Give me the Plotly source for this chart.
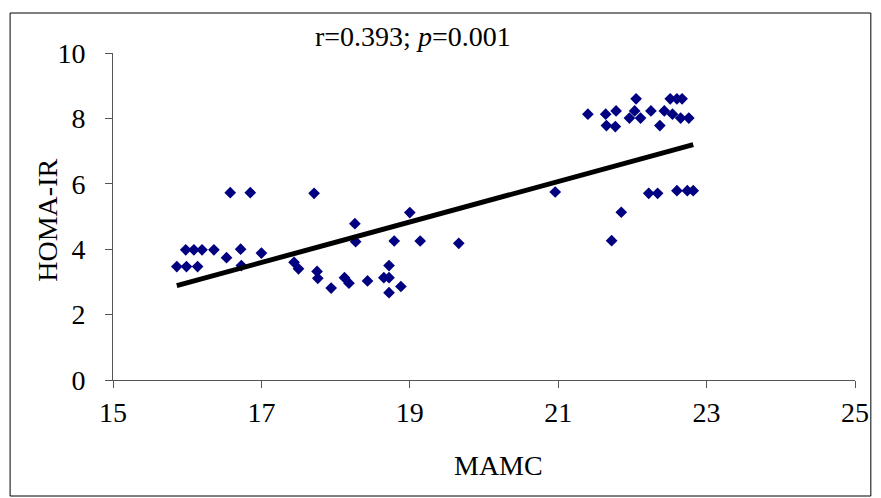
import numpy as np
import plotly.graph_objects as go

mamc = [15.86, 15.99, 16.14, 15.98, 16.09, 16.20, 16.36, 16.53, 16.58, 16.72, 16.73, 16.85, 17.00, 17.44, 17.50,
        17.71, 17.75, 17.76, 17.94, 18.12, 18.18, 18.26, 18.27, 18.43, 18.65, 18.72, 18.72, 18.72, 18.79, 18.88,
        19.00, 19.14, 19.66,
        20.96, 21.40, 21.64, 21.78, 21.65, 21.77, 21.72, 21.85, 21.96, 22.03, 22.05, 22.11, 22.22, 22.25, 22.34,
        22.37, 22.43, 22.51, 22.54, 22.60, 22.60, 22.65, 22.67, 22.74, 22.76, 22.82]
homa = [3.47, 3.47, 3.47, 3.98, 3.98, 3.98, 3.98, 3.74, 5.73, 4.00, 3.50, 5.73, 3.88, 3.60, 3.40,
        5.71, 3.32, 3.11, 2.81, 3.13, 2.96, 4.78, 4.23, 3.03, 3.13, 3.13, 3.50, 2.67, 4.25, 2.86,
        5.12, 4.25, 4.18,
        5.75, 8.13, 8.13, 8.23, 7.78, 7.75, 4.26, 5.13, 8.01, 8.23, 8.60, 8.01, 5.71, 8.23, 5.71,
        7.78, 8.23, 8.60, 8.13, 8.60, 5.79, 8.01, 8.60, 5.79, 8.01, 5.79]

# trend line as shown in the picture
trend_slope = 0.619
trend_intercept = -6.93

x_ticks = [15, 17, 19, 21, 23, 25]
y_ticks = [0, 2, 4, 6, 8, 10]
stat_text = "r=0.393; <i>p</i>=0.001"
x_title = "MAMC"
y_title = "HOMA-IR"

fx = np.array([min(mamc), max(mamc)])
fy = trend_slope * fx + trend_intercept

FONT = "Liberation Serif, Times New Roman, serif"

fig = go.Figure()
fig.add_trace(go.Scatter(x=mamc, y=homa, mode="markers",
                         marker=dict(symbol="diamond", size=9, color="#000080"),
                         showlegend=False, hoverinfo="x+y"))
fig.add_trace(go.Scatter(x=fx, y=fy, mode="lines",
                         line=dict(color="black", width=5), showlegend=False))

axis_common = dict(showgrid=False, zeroline=False, showline=True, linecolor="#555555", linewidth=1,
                   ticks="outside", ticklen=7, tickcolor="#555555", tickwidth=1,
                   tickfont=dict(family=FONT, size=28, color="black"))
fig.update_xaxes(range=[15, 25], tickvals=x_ticks, ticktext=[str(v) for v in x_ticks],
                 ticklabelstandoff=0, **axis_common)
fig.update_yaxes(range=[0, 10], tickvals=y_ticks, ticktext=[str(v) for v in y_ticks],
                 ticklabelstandoff=14, **axis_common)

L, R, T, B = 113, 18, 53, 118
W, H = 881, 498
pw, ph = W - L - R, H - T - B

def px2paper(px, py):
    return (px - L) / pw, (H - B - py) / ph

x0, y0 = px2paper(9, 496)
x1, y1 = px2paper(879, 13)
fig.add_shape(type="rect", xref="paper", yref="paper", x0=x0, y0=y0, x1=x1, y1=y1,
              line=dict(color="black", width=1), layer="below")

ann_font = dict(family=FONT, size=28, color="black")
ax, ay = px2paper(416, 36)
fig.add_annotation(x=ax, y=ay, xref="paper", yref="paper", text=stat_text, showarrow=False,
                   xanchor="center", yanchor="middle", font=ann_font)
tx, ty = px2paper(503, 465)
fig.add_annotation(x=tx, y=ty, xref="paper", yref="paper", text=x_title, showarrow=False,
                   xanchor="center", yanchor="middle", font=ann_font)
yx, yy = px2paper(46, 220)
fig.add_annotation(x=yx, y=yy, xref="paper", yref="paper", text=y_title, showarrow=False,
                   xanchor="center", yanchor="middle", textangle=-90, font=ann_font)

fig.update_layout(width=W, height=H, margin=dict(l=L, r=R, t=T, b=B),
                  paper_bgcolor="white", plot_bgcolor="white")
fig.write_html("out.html")
